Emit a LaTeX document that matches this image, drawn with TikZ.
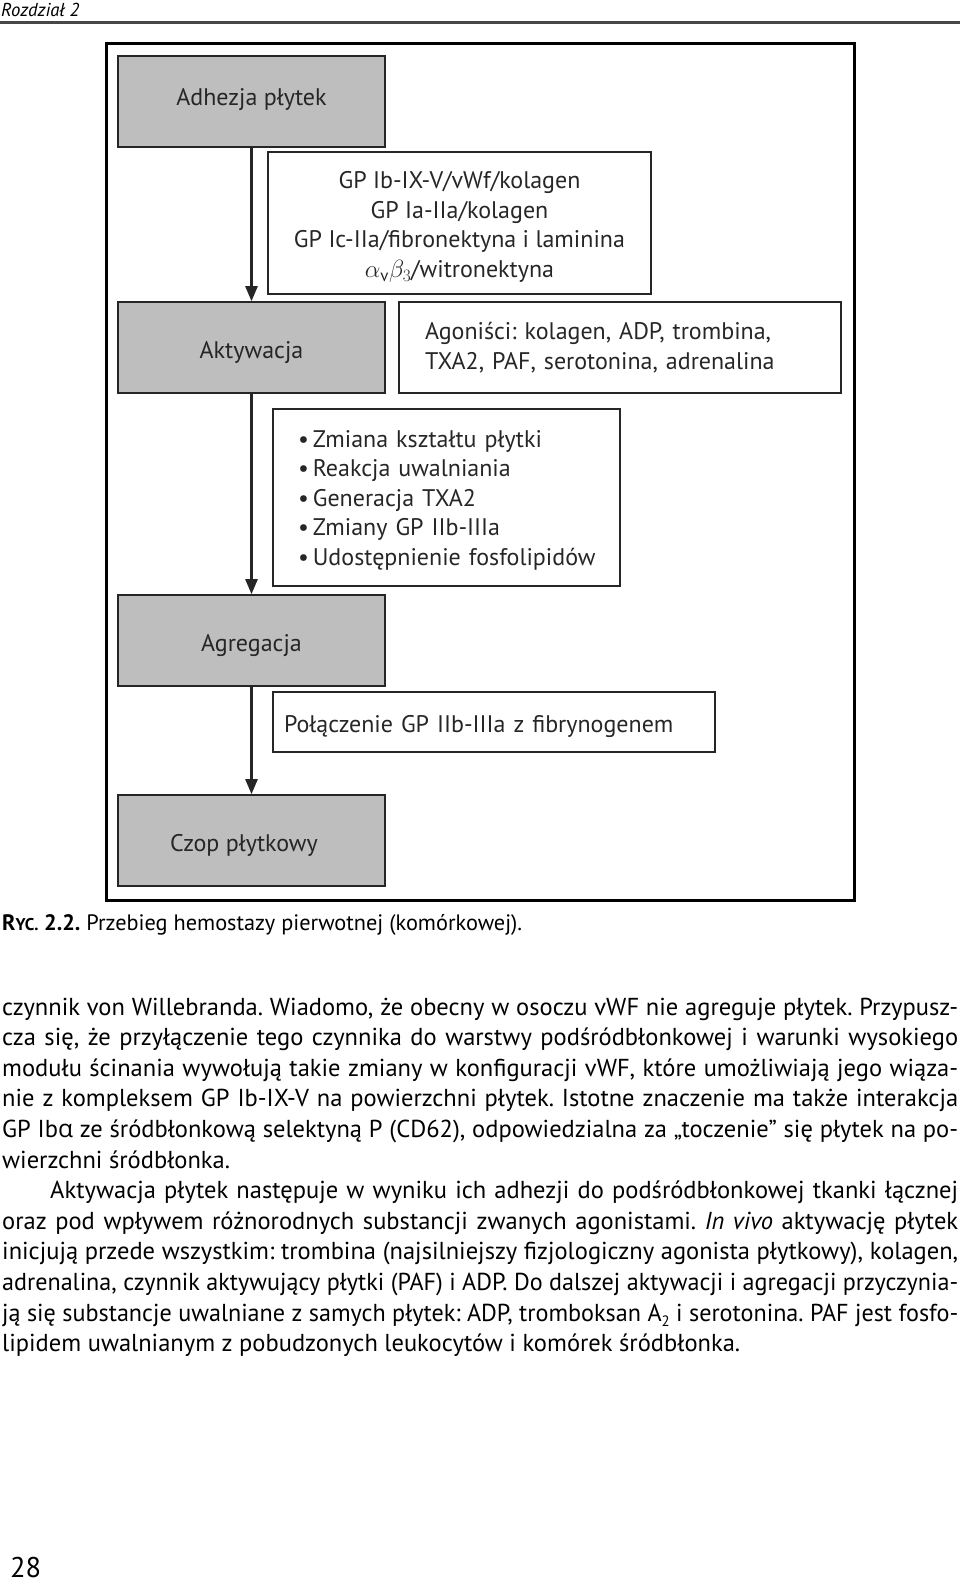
\documentclass[tikz,border=0pt]{standalone}
\usepackage{fontspec}
\setmainfont{PT Sans}
\newfontfamily\grkfont{Open Sans}
\usepackage{graphicx}
\usepackage{tikz}
\usetikzlibrary{arrows.meta, positioning}
\definecolor{stagegray}{RGB}{190,190,190}
\definecolor{inkgray}{RGB}{38,38,38}
\tikzset{every node/.append style={inner sep=0pt}}
\frenchspacing
% wiersz justowany: rozciaga odstepy albo sciska za dlugi wiersz
\newsavebox\linebox
\newcommand\fillline[1]{\sbox\linebox{#1}%
  \ifdim\wd\linebox>956pt\resizebox{956pt}{\ht\linebox}{\usebox\linebox}%
  \else\makebox[956pt][s]{#1}\fi}

\begin{document}
\begin{tikzpicture}[x=1pt, y=-1pt,
    stage/.style={rectangle, draw=inkgray, fill=stagegray, line width=1.6pt,
        minimum width=267pt, minimum height=91pt, text=inkgray,
        text height=23pt, text depth=2pt,
        font=\fontsize{24}{28}\selectfont},
    note/.style={rectangle, draw=inkgray, line width=1.2pt, text=inkgray,
        font=\fontsize{24}{29.5}\selectfont},
    a/.style={-{Triangle[length=15pt,width=12pt]}, line width=2.4pt, inkgray},
    bodyline/.style={anchor=base west, text=black, font=\fontsize{24.5}{30.6}\selectfont}
]
\useasboundingbox (0,0) rectangle (960,1585);
% ===== NAGLOWEK =====
\node[anchor=west, font=\fontsize{18.7}{22}\selectfont\itshape] (chap) at (1,10) {Rozdział 2};
\draw[line width=2.5pt, inkgray!85] (0,22.5) -- (960,22.5);
% ===== RAMKA RYCINY =====
\node[draw=black, line width=3pt, minimum width=748pt, minimum height=857pt] (frame) at (480,471.5) {};
% ===== ETAPY =====
\node[stage, text height=14pt, text depth=6pt] (adh) at (251.5,101.5) {Adhezja płytek};
\node[stage] (akt)  at (251.5,347.5) {Aktywacja};
\node[stage] (agr)  at (251.5,640.5) {Agregacja};
\node[stage] (czop) at (251.5,840.5) {Czop płytkowy\hspace*{15pt}};
\draw[a] (adh) -- (akt);
\draw[a] (akt) -- (agr);
\draw[a] (agr) -- (czop);
% ===== OPISY =====
\node[note, minimum width=383pt, minimum height=142pt, align=center] (rec) at (459.5,223)
    {\rule{0pt}{25pt}GP Ib-IX-V/vWf/kolagen\\GP Ia-IIa/kolagen\\GP Ic-IIa/fibronektyna i laminina\\
     $\alpha_{\mathrm{v}}\beta_3$/witronektyna};
\node[note, text width=390pt, inner xsep=26pt, minimum height=91pt, align=left] (agon) at (620,347.5)
    {Agoniści: kolagen, ADP, trombina,\\TXA2, PAF, serotonina, adrenalina};
\node[note, text width=297pt, inner xsep=25pt, minimum height=177pt, align=left] (zmiany) at (446.5,497.5)
    {\rule{0pt}{22pt}•\,Zmiana kształtu płytki\\•\,Reakcja uwalniania\\•\,Generacja TXA2\\
     •\,Zmiany GP IIb-IIIa\\\mbox{•\,Udostępnienie fosfolipidów}};
\node[note, text width=420pt, inner xsep=11pt, minimum height=60pt, text height=22pt, text depth=2pt]
    (fibr) at (494,722) {Połączenie GP IIb-IIIa z fibrynogenem};
% ===== PODPIS =====
\node[anchor=west, font=\fontsize{22.3}{26}\selectfont] (cap) at (2,925)
    {{\bfseries R{\fontsize{17}{17}\selectfont YC.} 2.2.} Przebieg hemostazy pierwotnej (komórkowej).};
% ===== TEKST =====
\foreach \t [count=\i] in {
    {czynnik von Willebranda. Wiadomo, że obecny w osoczu vWF nie agreguje płytek. Przypusz-},
    {cza się, że przyłączenie tego czynnika do warstwy podśródbłonkowej i warunki wysokiego},
    {modułu ścinania wywołują takie zmiany w konfiguracji vWF, które umożliwiają jego wiąza-},
    {nie z kompleksem GP Ib-IX-V na powierzchni płytek. Istotne znaczenie ma także interakcja},
    {GP Ib{\grkfont α} ze śródbłonkową selektyną P (CD62), odpowiedzialna za „toczenie” się płytek na po-},
    {wierzchni śródbłonka.\hfill},
    {\hspace*{48pt}Aktywacja płytek następuje w wyniku ich adhezji do podśródbłonkowej tkanki łącznej},
    {oraz pod wpływem różnorodnych substancji zwanych agonistami. \textit{In vivo} aktywację płytek},
    {inicjują przede wszystkim: trombina (najsilniejszy fizjologiczny agonista płytkowy), kolagen,},
    {adrenalina, czynnik aktywujący płytki (PAF) i ADP. Do dalszej aktywacji i agregacji przyczynia-},
    {ją się substancje uwalniane z samych płytek: ADP, tromboksan A\raisebox{-5pt}{\fontsize{15}{15}\selectfont 2} i serotonina. PAF jest fosfo-},
    {lipidem uwalnianym z pobudzonych leukocytów i komórek śródbłonka.\hfill}}
  \node[bodyline] (l\i) at (2,{1015+30.6*(\i-1)}) {\fillline{\t}};
% ===== NUMER STRONY =====
\node[anchor=west, font=\fontsize{28.5}{30}\selectfont] (page) at (10,1568) {28};
\end{tikzpicture}
\end{document}
